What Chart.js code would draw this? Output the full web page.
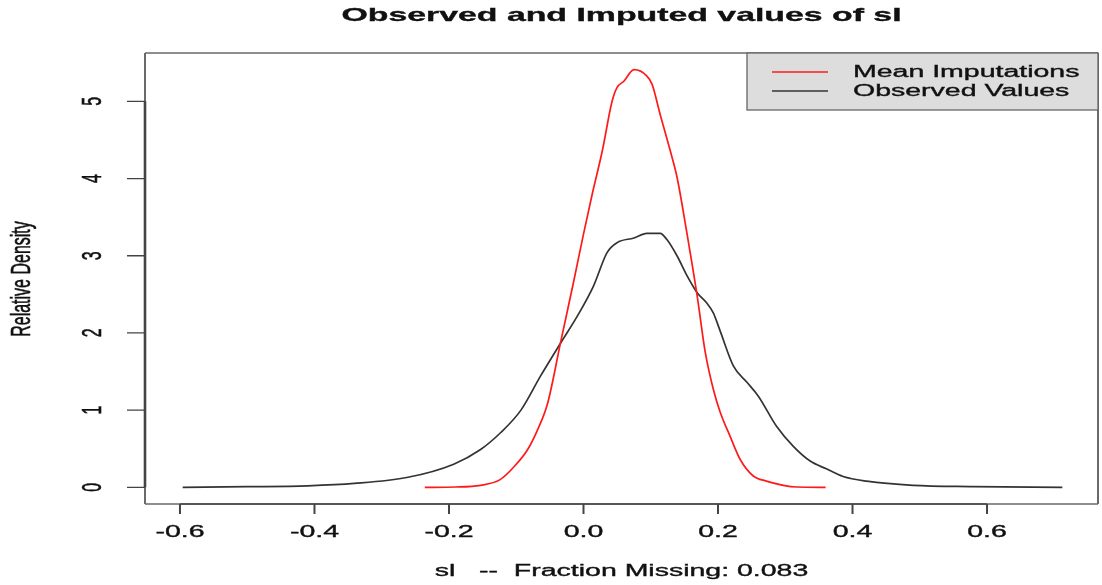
<!DOCTYPE html>
<html>
<head>
<meta charset="utf-8">
<script src="https://cdn.jsdelivr.net/npm/chart.js@4"></script>
<style>
html,body{margin:0;padding:0;background:#fff;}
#wrap{width:1102px;height:585px;position:relative;}
</style>
</head>
<body>
<div id="wrap"><canvas id="c" width="1102" height="585"></canvas></div>
<script>
// ---- data ----
const chartTitle = 'Observed and Imputed values of sl';
const xAxisTitle = 'sl   --  Fraction Missing: 0.083';
const yAxisTitle = 'Relative Density';
const seriesLabels = ['Mean Imputations', 'Observed Values'];
const xTicks = [-0.6, -0.4, -0.2, 0.0, 0.2, 0.4, 0.6];
const xTickLabels = ['-0.6', '-0.4', '-0.2', '0.0', '0.2', '0.4', '0.6'];
const yTicks = [0, 1, 2, 3, 4, 5];
const yTickLabels = ['0', '1', '2', '3', '4', '5'];

const imputedX = [-0.236, -0.19, -0.153, -0.124, -0.104, -0.083, -0.068, -0.053, -0.034, -0.015, 0.0, 0.013, 0.028, 0.0425, 0.050, 0.060, 0.075, 0.094, 0.102, 0.114, 0.129, 0.139, 0.154, 0.169, 0.181, 0.193, 0.203, 0.218, 0.233, 0.252, 0.272, 0.297, 0.317, 0.360];
const imputedY = [0, 0.004, 0.026, 0.10, 0.26, 0.49, 0.75, 1.10, 1.88, 2.65, 3.28, 3.80, 4.36, 5.00, 5.18, 5.26, 5.41, 5.33, 5.22, 4.83, 4.36, 4.02, 3.28, 2.48, 1.75, 1.27, 0.98, 0.66, 0.36, 0.15, 0.08, 0.026, 0.004, 0];

const observedX = [-0.596, -0.5, -0.41, -0.341, -0.261, -0.193, -0.153, -0.123, -0.093, -0.064, -0.034, -0.009, 0.015, 0.035, 0.050, 0.075, 0.094, 0.114, 0.124, 0.139, 0.154, 0.169, 0.183, 0.193, 0.203, 0.223, 0.243, 0.260, 0.287, 0.312, 0.337, 0.361, 0.386, 0.421, 0.49, 0.579, 0.712];
const observedY = [0, 0.008, 0.02, 0.05, 0.13, 0.30, 0.49, 0.71, 1.00, 1.44, 1.87, 2.22, 2.61, 3.04, 3.17, 3.23, 3.29, 3.29, 3.21, 3.00, 2.74, 2.52, 2.39, 2.26, 2.03, 1.57, 1.36, 1.18, 0.79, 0.53, 0.34, 0.24, 0.14, 0.08, 0.026, 0.01, 0];

const seriesColors = ['#ff1a1a', '#333333'];

function pts(xs, ys) { return xs.map((x, i) => ({x: x, y: ys[i]})); }

// ---- R-like drawing helpers ----
const SX = 1.78;           // horizontal stretch of the reference image
const FONT = "'Liberation Sans', Arial, sans-serif";
function txt(ctx, s, x, y, size, bold, align, rotate) {
  ctx.save();
  ctx.translate(x, y);
  ctx.scale(SX, 1);
  if (rotate) ctx.rotate(-Math.PI / 2);
  ctx.font = (bold ? 'bold ' : '') + size + 'px ' + FONT;
  ctx.textAlign = align;
  ctx.textBaseline = 'middle';
  ctx.fillStyle = '#111';
  ctx.strokeStyle = '#111';
  ctx.lineWidth = 0.35;
  ctx.fillText(s, 0, 0);
  ctx.strokeText(s, 0, 0);
  ctx.restore();
}

const rDecor = {
  id: 'rDecor',
  afterDatasetsDraw(chart) {
    const ctx = chart.ctx;
    const a = chart.chartArea;
    const xs = chart.scales.x, ys = chart.scales.y;
    ctx.save();
    // box
    ctx.strokeStyle = '#6a6a6a';
    ctx.lineWidth = 1.3;
    ctx.beginPath();
    ctx.moveTo(a.left, a.top); ctx.lineTo(a.right, a.top);
    ctx.moveTo(a.left, a.bottom); ctx.lineTo(a.right, a.bottom);
    ctx.stroke();
    ctx.lineWidth = 2;
    ctx.beginPath();
    ctx.moveTo(a.left, a.top); ctx.lineTo(a.left, a.bottom);
    ctx.moveTo(a.right, a.top); ctx.lineTo(a.right, a.bottom);
    ctx.stroke();
    // y axis line & ticks
    ctx.strokeStyle = '#444';
    ctx.lineWidth = 2.6;
    ctx.beginPath();
    ctx.moveTo(a.left, ys.getPixelForValue(yTicks[0]));
    ctx.lineTo(a.left, ys.getPixelForValue(yTicks[yTicks.length - 1]));
    ctx.stroke();
    ctx.lineWidth = 1.3;
    ctx.beginPath();
    yTicks.forEach(v => {
      const p = ys.getPixelForValue(v);
      ctx.moveTo(a.left - 18, p); ctx.lineTo(a.left, p);
    });
    ctx.stroke();
    // x axis line & ticks
    ctx.lineWidth = 1.4;
    ctx.strokeStyle = '#444';
    ctx.beginPath();
    ctx.moveTo(xs.getPixelForValue(xTicks[0]), a.bottom);
    ctx.lineTo(xs.getPixelForValue(xTicks[xTicks.length - 1]), a.bottom);
    ctx.stroke();
    ctx.lineWidth = 2;
    ctx.beginPath();
    xTicks.forEach(v => {
      const p = xs.getPixelForValue(v);
      ctx.moveTo(p, a.bottom); ctx.lineTo(p, a.bottom + 10);
    });
    ctx.stroke();
    // tick labels
    xTicks.forEach((v, i) => txt(ctx, xTickLabels[i], xs.getPixelForValue(v), a.bottom + 29, 16, false, 'center', false));
    yTicks.forEach((v, i) => txt(ctx, yTickLabels[i], 93, ys.getPixelForValue(v), 16, false, 'center', true));
    // titles
    txt(ctx, chartTitle, (a.left + a.right) / 2, 16, 19, true, 'center', false);
    txt(ctx, xAxisTitle, (a.left + a.right) / 2, 572, 16, false, 'center', false);
    txt(ctx, yAxisTitle, 22, 279, 16, false, 'center', true);
    // legend
    const lx0 = 747, ly0 = a.top, lx1 = a.right, ly1 = 110;
    ctx.fillStyle = '#dddddd';
    ctx.fillRect(lx0, ly0, lx1 - lx0, ly1 - ly0);
    ctx.strokeStyle = '#666';
    ctx.lineWidth = 1.3;
    ctx.strokeRect(lx0, ly0, lx1 - lx0, ly1 - ly0);
    chart.data.datasets.forEach((ds, i) => {
      const yy = 72 + i * 19;
      ctx.strokeStyle = ds.borderColor;
      ctx.lineWidth = 1.5;
      ctx.beginPath();
      ctx.moveTo(772, yy); ctx.lineTo(828, yy);
      ctx.stroke();
      txt(ctx, ds.label, 853, yy + 1, 16, false, 'left', false);
    });
    ctx.restore();
  }
};

new Chart(document.getElementById('c'), {
  type: 'scatter',
  data: {
    datasets: [
      {label: seriesLabels[0], data: pts(imputedX, imputedY), borderColor: seriesColors[0], backgroundColor: seriesColors[0]},
      {label: seriesLabels[1], data: pts(observedX, observedY), borderColor: seriesColors[1], backgroundColor: seriesColors[1]}
    ]
  },
  options: {
    responsive: false,
    animation: false,
    devicePixelRatio: 1,
    layout: {padding: {left: 145, right: 4, top: 53, bottom: 81}},
    elements: {
      point: {radius: 0, hoverRadius: 0},
      line: {borderWidth: 1.7, cubicInterpolationMode: 'monotone', fill: false}
    },
    datasets: {scatter: {showLine: true}},
    plugins: {legend: {display: false}, title: {display: false}, tooltip: {enabled: false}},
    scales: {
      x: {type: 'linear', min: -0.652, max: 0.765, display: false},
      y: {type: 'linear', min: -0.216, max: 5.626, display: false}
    }
  },
  plugins: [rDecor]
});
</script>
</body>
</html>
